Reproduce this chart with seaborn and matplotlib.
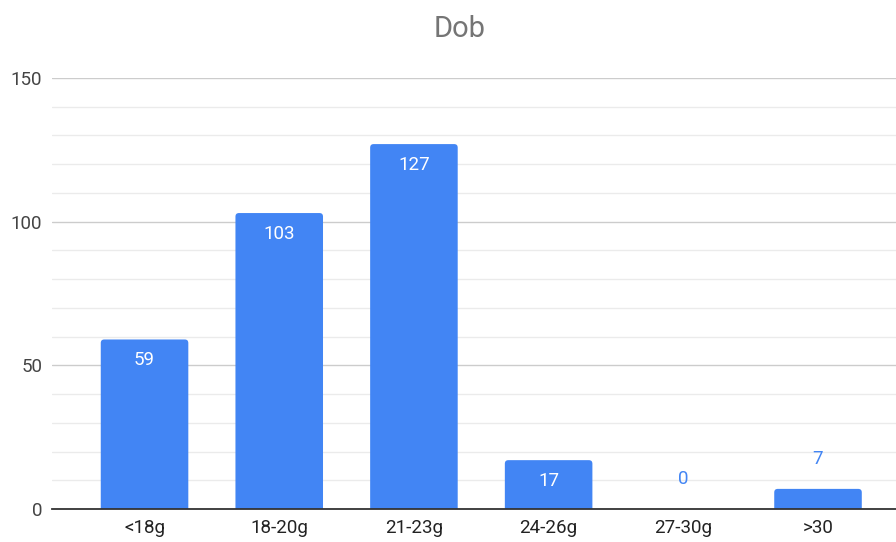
import matplotlib
matplotlib.use("Agg")
import matplotlib.pyplot as plt
import seaborn as sns
import pandas as pd
from matplotlib.patches import FancyBboxPatch
from matplotlib.ticker import MultipleLocator

categories = ["<18g", "18-20g", "21-23g", "24-26g", "27-30g", ">30"]
values = [59, 103, 127, 17, 0, 7]
title = "Dob"

bar_color = "#4285F4"

sns.set_theme(style="white")
plt.rcParams["font.family"] = ["Roboto", "DejaVu Sans"]

df = pd.DataFrame({"cat": categories, "val": values})

fig = plt.figure(figsize=(8.96, 5.42), dpi=100)
ax = fig.add_axes([52 / 896, 1 - 509 / 542, 1 - 52 / 896, 431 / 542])

sns.barplot(data=df, x="cat", y="val", color=bar_color, width=0.65,
            saturation=1, ax=ax, zorder=3)

ax.set_ylim(0, 150)
ax.set_xlim(-0.687, 5.579)

# rounded top corners
rx = 3.5 / 134.7
ry = 3.5 / 2.873
for p in list(ax.patches):
    x, y = p.get_x(), p.get_y()
    w, h = p.get_width(), p.get_height()
    p.remove()
    fb = FancyBboxPatch((x, -ry), w, h + ry,
                        boxstyle=f"round,pad=0,rounding_size={rx}",
                        mutation_aspect=ry / rx,
                        facecolor=bar_color, edgecolor="none", zorder=3)
    ax.add_patch(fb)

ax.yaxis.set_major_locator(MultipleLocator(50))
ax.yaxis.set_minor_locator(MultipleLocator(10))
ax.grid(which="major", axis="y", color="#cccccc", linewidth=1.0, zorder=0)
ax.grid(which="minor", axis="y", color="#ebebeb", linewidth=1.0, zorder=0)
ax.grid(which="major", axis="x", visible=False)

for s in ["top", "right", "left"]:
    ax.spines[s].set_visible(False)
ax.spines["bottom"].set_color("#333333")
ax.spines["bottom"].set_linewidth(1.3)
ax.spines["bottom"].set_zorder(5)

ax.tick_params(axis="both", which="both", length=0)
ax.tick_params(axis="x", labelsize=13.5, labelcolor="#222222", pad=7)
ax.tick_params(axis="y", labelsize=13.5, labelcolor="#444444", pad=7)
ax.set_xlabel("")
ax.set_ylabel("")

for i, v in enumerate(values):
    if v >= 12:
        ax.annotate(str(v), (i, v), xytext=(0, -8.5), textcoords="offset points",
                    ha="center", va="top", color="white", fontsize=13.5, zorder=6)
    else:
        ax.annotate(str(v), (i, v), xytext=(0, 15), textcoords="offset points",
                    ha="center", va="bottom", color=bar_color, fontsize=13.5, zorder=6)

fig.text(460 / 896, 1 - 29 / 542, title, ha="center", va="center",
         fontsize=21, color="#757575")

fig.savefig("out.png", dpi=100)
